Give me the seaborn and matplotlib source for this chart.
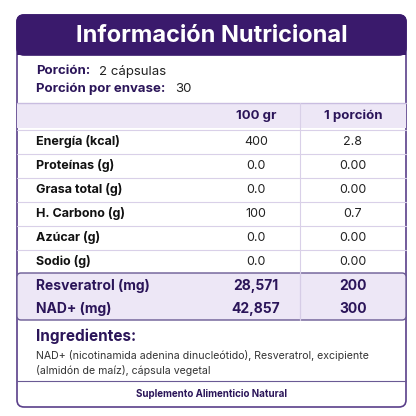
import matplotlib
matplotlib.use("Agg")
import matplotlib.pyplot as plt
from matplotlib.patches import FancyBboxPatch, Rectangle
import seaborn as sns

# ── Datos ─────────────────────────────────────────────────────────────────
title = "Información Nutricional"
porcion = "2 cápsulas"
porcion_envase = "30"
col_headers = ["100 gr", "1 porción"]
nutrientes = ["Energía (kcal)", "Proteínas (g)", "Grasa total (g)",
              "H. Carbono (g)", "Azúcar (g)", "Sodio (g)"]
val_100g = ["400", "0.0", "0.0", "100", "0.0", "0.0"]
val_porcion = ["2.8", "0.00", "0.00", "0.7", "0.00", "0.00"]
activos = ["Resveratrol (mg)", "NAD+ (mg)"]
act_100g = ["28,571", "42,857"]
act_porcion = ["200", "300"]
ingredientes = ("NAD+ (nicotinamida adenina dinucleótido), Resveratrol, excipiente\n"
                "(almidón de maíz), cápsula vegetal")
footer = "Suplemento Alimenticio Natural"

sns.set_theme(style="white")
plt.rcParams['font.family'] = ['Inter', 'DejaVu Sans']

DARK = '#3a1a6c'
LAV = '#ede7f6'
LINE = '#d9d0e8'
TXT = '#2b1559'

fig = plt.figure(figsize=(4.16, 4.16), dpi=100)
ax = fig.add_axes([0, 0, 1, 1])
ax.set_xlim(0, 416)
ax.set_ylim(416, 0)
ax.axis('off')

L, R, T, B = 17, 406, 15, 407
ax.add_patch(FancyBboxPatch((L, T), R - L, B - T, boxstyle="round,pad=0,rounding_size=7",
                            fc='white', ec='#5a3f8a', lw=1.2, zorder=1))
ax.add_patch(FancyBboxPatch((L, T), R - L, 40, boxstyle="round,pad=0,rounding_size=7",
                            fc=DARK, ec=DARK, lw=1.2, zorder=2))
ax.add_patch(Rectangle((L, 45), R - L, 10, fc=DARK, ec='none', zorder=2))
ax.text((L + R) / 2, 36, title, color='white', fontsize=17, fontweight='bold',
        ha='center', va='center', zorder=3)

ax.text(36, 71, "Porción:", color=TXT, fontsize=9.5, fontweight='bold', va='center')
ax.text(99, 71, porcion, color='#222', fontsize=9.5, va='center')
ax.text(36, 89, "Porción por envase:", color=TXT, fontsize=9.5, fontweight='bold', va='center')
ax.text(175, 89, porcion_envase, color='#222', fontsize=9.5, va='center')

# cabecera de columnas
ax.add_patch(Rectangle((L, 103), R - L, 25, fc=LAV, ec='none', zorder=1.5))
ax.plot([L, R], [103, 103], color='#c9bde0', lw=1, zorder=2)
col_x = [256, 353]
for x, h in zip(col_x, col_headers):
    ax.text(x, 116, h, color=TXT, fontsize=9.5, fontweight='bold', ha='center', va='center')

# filas nutrientes
y0, dy = 142, 24
for i, (n, a, b) in enumerate(zip(nutrientes, val_100g, val_porcion)):
    y = y0 + i * dy
    ax.text(36, y, n, color='#111', fontsize=9, fontweight='bold', va='center')
    ax.text(col_x[0], y, a, color='#222', fontsize=9, ha='center', va='center')
    ax.text(col_x[1], y, b, color='#222', fontsize=9, ha='center', va='center')
    ax.plot([L, R], [y - dy / 2, y - dy / 2], color=LINE, lw=0.8, zorder=2)
ax.plot([300, 300], [103, 320], color=LINE, lw=0.8, zorder=2)

# activos resaltados
ax.add_patch(FancyBboxPatch((L, 273), R - L, 47, boxstyle="round,pad=0,rounding_size=4",
                            fc=LAV, ec='#6a5a94', lw=1, zorder=1.8))
for i, (n, a, b) in enumerate(zip(activos, act_100g, act_porcion)):
    y = 286 + i * 23
    ax.text(36, y, n, color=TXT, fontsize=10, fontweight='bold', va='center', zorder=3)
    ax.text(col_x[0], y, a, color=TXT, fontsize=10, fontweight='bold', ha='center', va='center', zorder=3)
    ax.text(col_x[1], y, b, color=TXT, fontsize=10, fontweight='bold', ha='center', va='center', zorder=3)
ax.plot([300, 300], [273, 320], color='#d6cce6', lw=0.8, zorder=2.5)

ax.text(36, 336, "Ingredientes:", color=TXT, fontsize=11, fontweight='bold', va='center')
ax.text(36, 363, ingredientes, color='#333', fontsize=7.6, va='center', linespacing=1.35)
ax.plot([L, R], [381, 381], color='#6a5a94', lw=0.8)
ax.text((L + R) / 2, 394, footer, color=TXT, fontsize=7, fontweight='bold',
        ha='center', va='center')

fig.savefig('out.png', dpi=100, facecolor='white')
